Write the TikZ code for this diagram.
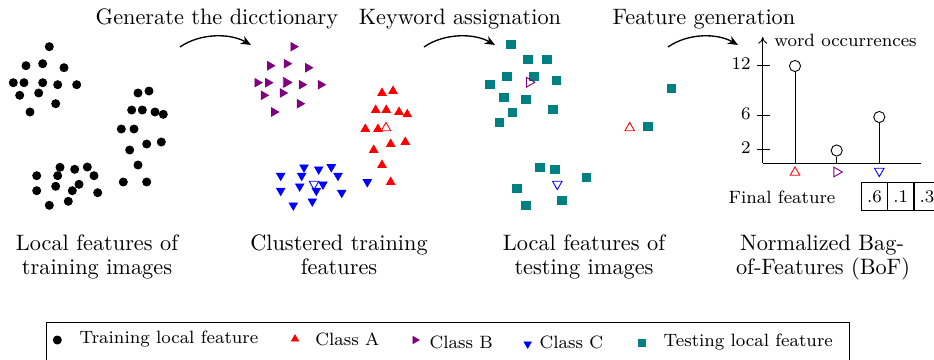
\documentclass[tikz,border=0pt]{standalone}
\usetikzlibrary{arrows.meta,plotmarks}
\definecolor{bofpurple}{HTML}{800080}
\definecolor{bofteal}{HTML}{008080}
\tikzset{
  trdot/.style={mark=*, mark size=1.8pt, mark options={color=black}},
  clsA/.style={mark=triangle*, mark size=2.1pt, mark options={color=red}},
  clsB/.style={mark=triangle*, mark size=2.1pt, mark options={color=bofpurple, rotate=-90}},
  clsC/.style={mark=triangle*, mark size=2.1pt, mark options={color=blue, rotate=180}},
  tstsq/.style={mark=square*, mark size=1.85pt, mark options={color=bofteal}},
  hA/.style={mark=triangle, mark size=2.5pt, mark options={draw=red, fill=none}},
  hB/.style={mark=triangle, mark size=2.5pt, mark options={draw=bofpurple, fill=none, rotate=-90}},
  hC/.style={mark=triangle, mark size=2.5pt, mark options={draw=blue, fill=none, rotate=180}},
  flow/.style={semithick, -{Stealth[length=4.6pt,width=3.8pt]}},
  lbl/.style={inner sep=0pt, font=\normalsize},
  smalllbl/.style={inner sep=0pt, font=\footnotesize},
  cellbox/.style={draw, thin, minimum width=11.8pt, minimum height=12.55pt, inner sep=0pt, font=\footnotesize},
  stemcirc/.style={draw, thin, fill=white, circle, minimum size=5.0pt, inner sep=0pt},
}
\begin{document}
\begin{tikzpicture}[x=0.4484pt, y=-0.4484pt]
\useasboundingbox (0,0) rectangle (934,360);

% ---------- titles ----------
\node[lbl, anchor=base] (t1) at (217,24) {Generate the dicctionary};
\node[lbl, anchor=base] (t2) at (460,24) {Keyword assignation};
\node[lbl, anchor=base] (t3) at (704,24) {Feature generation};

% ---------- curved arrows ----------
\coordinate (a1s) at (180,47); \coordinate (a1e) at (251,45);
\coordinate (a2s) at (424,47); \coordinate (a2e) at (495,45);
\coordinate (a3s) at (668,47); \coordinate (a3e) at (738,45);
\draw[flow] (a1s) .. controls +(20,-14) and +(-21,-12) .. (a1e);
\draw[flow] (a2s) .. controls +(20,-14) and +(-21,-12) .. (a2e);
\draw[flow] (a3s) .. controls +(20,-14) and +(-21,-12) .. (a3e);

% ---------- panel 1: training local features ----------
\path[trdot] plot[only marks] coordinates {
 (49.3,46.7) (26,65.7) (42.7,63.7) (64,67.7) (13.3,82.7) (24,82.7) (42.7,82.7)
 (57.7,84.7) (76.7,84.7) (19.7,95.3) (38.7,93) (55.7,103.7) (30,112)
 (138,93) (149,91) (131.7,110) (142.3,110) (155,112) (163.3,114.3) (121.3,129)
 (134,129) (129.7,150) (146.7,144) (161.3,142) (138,165) (146.7,182) (123.3,182)
 (60,167.3) (74.7,169.3) (87.3,167) (36.7,175.7) (57.7,175.7) (94,175.7)
 (55.7,186.3) (79,184.3) (36.7,190.7) (72.3,190.7) (97.7,192.7) (49.3,205.3) (68.3,201.3)};

% ---------- panel 2: clustered training features ----------
\begin{scope}[shift={(244,0)}]
\path[clsB] plot[only marks] coordinates {
 (49.3,46.7) (26,65.7) (42.7,63.7) (64,67.7) (13.3,82.7) (24,82.7) (42.7,82.7)
 (57.7,84.7) (76.7,84.7) (19.7,95.3) (38.7,93) (55.7,103.7) (30,112)};
\path[clsA] plot[only marks] coordinates {
 (138,93) (149,91) (131.7,110) (142.3,110) (155,112) (163.3,114.3) (121.3,129)
 (134,129) (129.7,150) (146.7,144) (161.3,142) (138,165) (146.7,182)};
\path[clsC] plot[only marks] coordinates {
 (123.3,182)
 (60,167.3) (74.7,169.3) (87.3,167) (36.7,175.7) (57.7,175.7) (94,175.7)
 (55.7,186.3) (79,184.3) (36.7,190.7) (72.3,190.7) (97.7,192.7) (49.3,205.3) (68.3,201.3)};
\end{scope}
\path[hB] plot[only marks] coordinates {(286,82.3)};
\path[hA] plot[only marks] coordinates {(386,128)};
\path[hC] plot[only marks] coordinates {(314,184)};

% ---------- panel 3: testing local features ----------
\path[tstsq] plot[only marks] coordinates {
 (511,44.7) (528,59.7) (547,59.7) (507,76.7) (534,76.7) (556.7,80.7) (490,84.7)
 (504,97.7) (526,99.7) (512.7,112.7) (553,109.7) (499.7,122.7) (671.7,88.7)
 (648,126.7) (540,167.7) (555,169.7) (586.7,177.7) (517,188.7) (562,200.7) (526,205.7)};
\path[hB] plot[only marks] coordinates {(529.3,82.3)};
\path[hA] plot[only marks] coordinates {(629.7,128)};
\path[hC] plot[only marks] coordinates {(557.3,184)};

% ---------- panel 4: histogram ----------
\coordinate (orig) at (762.7,163.3);
\coordinate (ytip) at (762.7,37);
\coordinate (xend) at (920.7,163.3);
\draw[thin, -{To[length=3pt,width=4pt]}] (orig) -- (ytip);
\draw[thin] (orig) -- (xend);
\draw[thin] (756.7,65) -- (770,65);
\draw[thin] (756.7,115.3) -- (770,115.3);
\draw[thin] (756.7,149.3) -- (770,149.3);
\node[smalllbl, anchor=east] (y12) at (751,63.5) {12};
\node[smalllbl, anchor=east] (y6) at (751,114) {6};
\node[smalllbl, anchor=east] (y2) at (751,148) {2};
\node[smalllbl, anchor=base west] (ylab) at (774,46) {word occurrences};

\node[stemcirc] (c1) at (795,66) {};
\node[stemcirc] (c2) at (836.7,150.5) {};
\node[stemcirc] (c3) at (879.3,117) {};
\coordinate (b1) at (795,163.3);
\coordinate (b2) at (836.7,163.3);
\coordinate (b3) at (879.3,163.3);
\draw[thin] (b1) -- (c1.south);
\draw[thin] (b2) -- (c2.south);
\draw[thin] (b3) -- (c3.south);

\path[hA] plot[only marks] coordinates {(795,172.5)};
\path[hB] plot[only marks] coordinates {(836.7,172)};
\path[hC] plot[only marks] coordinates {(879.3,171)};

\node[smalllbl, anchor=base west] (ff) at (728.3,203) {Final feature};
\node[cellbox] (f1) at (874.5,196.7) {.6};
\node[cellbox] (f2) at (900.8,196.7) {.1};
\node[cellbox] (f3) at (927.1,196.7) {.3};

% ---------- bottom labels ----------
\node[lbl, anchor=base] (l1a) at (97,250) {Local features of};
\node[lbl, anchor=base] (l1b) at (97,274.3) {training images};
\node[lbl, anchor=base] (l2a) at (339,250) {Clustered training};
\node[lbl, anchor=base] (l2b) at (339,274.3) {features};
\node[lbl, anchor=base] (l3a) at (584,250) {Local features of};
\node[lbl, anchor=base] (l3b) at (584,274.3) {testing images};
\node[lbl, anchor=base] (l4a) at (822,250) {Normalized Bag-};
\node[lbl, anchor=base] (l4b) at (823,274.3) {of-Features (BoF)};

% ---------- legend ----------
\draw[thin] (46.7,380) -- (46.7,322.7) -- (849.3,322.7) -- (849.3,380);
\path[trdot] plot[only marks] coordinates {(57.3,340)};
\path[clsA, mark size=1.8pt] plot[only marks] coordinates {(295,339)};
\path[clsB, mark size=1.8pt] plot[only marks] coordinates {(415,340)};
\path[clsC, mark size=1.8pt] plot[only marks] coordinates {(527.7,344)};
\path[tstsq, mark size=1.6pt] plot[only marks] coordinates {(641.7,342.7)};
\node[smalllbl, anchor=base west] (lg1) at (79.3,343.3) {Training local feature};
\node[smalllbl, anchor=base west] (lg2) at (315,345) {Class A};
\node[smalllbl, anchor=base west] (lg3) at (429.3,348.7) {Class B};
\node[smalllbl, anchor=base west] (lg4) at (539.3,348.7) {Class C};
\node[smalllbl, anchor=base west] (lg5) at (663.3,346.7) {Testing local feature};
\end{tikzpicture}
\end{document}
